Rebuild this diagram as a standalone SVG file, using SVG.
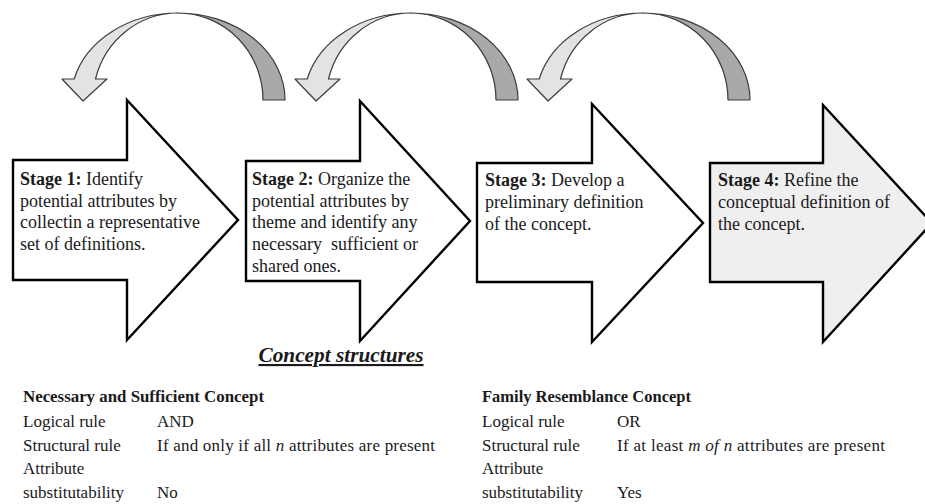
<svg xmlns="http://www.w3.org/2000/svg" width="925" height="504" viewBox="0 0 925 504">
<style>
  .blk { fill:#ffffff; stroke:#000000; stroke-width:2.4; stroke-linejoin:miter; }
  .blk4 { fill:#efefef; stroke:#000000; stroke-width:2.4; }
  .lt { fill:#e3e3e3; stroke:#3c3c3c; stroke-width:1.2; stroke-linejoin:round; }
  .dk { fill:#a9a9a9; stroke:#3c3c3c; stroke-width:1.2; stroke-linejoin:round; }
  .st { font-family:"Liberation Serif","Times New Roman",serif; font-size:18px; fill:#1a1a1a; }
  .tb { font-family:"Liberation Serif","Times New Roman",serif; font-size:17px; fill:#1a1a1a; }
  .b { font-weight:bold; }
  .i { font-style:italic; }
</style>

<g id="connectors">
  <g id="loop1">
    <path class="dk" d="M178 13 A107 87 0 0 1 285 100 L263 100 A85 87 0 0 0 178 13 Z"/>
    <path class="lt" d="M178 13 A107 87 0 0 0 74.2 79 L62 79 L83 101 L107 79 L95.5 79 A85 87 0 0 1 178 13 Z"/>
  </g>
  <g id="loop2">
    <path class="dk" d="M411 13 A107 87 0 0 1 518 100 L496 100 A85 87 0 0 0 411 13 Z"/>
    <path class="lt" d="M411 13 A107 87 0 0 0 307.2 79 L295 79 L316 101 L340 79 L328.5 79 A85 87 0 0 1 411 13 Z"/>
  </g>
  <g id="loop3">
    <path class="dk" d="M643 13 A107 87 0 0 1 750 100 L728 100 A85 87 0 0 0 643 13 Z"/>
    <path class="lt" d="M643 13 A107 87 0 0 0 539.2 79 L527 79 L548 101 L572 79 L560.5 79 A85 87 0 0 1 643 13 Z"/>
  </g>
</g>

<g id="stage1">
  <polygon class="blk" points="13,160 127,160 127,100 238,220 127,340 127,280 13,280"/>
  <text class="st" x="20" y="185"><tspan class="b">Stage 1:</tspan> Identify</text>
  <text class="st" x="20" y="207">potential attributes by</text>
  <text class="st" x="20" y="228">collectin a representative</text>
  <text class="st" x="20" y="250">set of definitions.</text>
</g>

<g id="stage2">
  <polygon class="blk" points="246,161 360,161 360,101 470,221 360,341 360,281 246,281"/>
  <text class="st" x="252" y="185"><tspan class="b">Stage 2:</tspan> Organize the</text>
  <text class="st" x="252" y="207">potential attributes by</text>
  <text class="st" x="252" y="228">theme and identify any</text>
  <text class="st" x="252" y="250" xml:space="preserve">necessary  sufficient or</text>
  <text class="st" x="252" y="272">shared ones.</text>
</g>

<g id="stage3">
  <polygon class="blk" points="477,163 592,163 592,104 703,223 592,342 592,282 477,282"/>
  <text class="st" x="485" y="186"><tspan class="b">Stage 3:</tspan> Develop a</text>
  <text class="st" x="485" y="208">preliminary definition</text>
  <text class="st" x="485" y="230">of the concept.</text>
</g>

<g id="stage4">
  <polygon class="blk4" points="710,163 823,163 823,105 932,223 823,342 823,282 710,282"/>
  <text class="st" x="718" y="186"><tspan class="b">Stage 4:</tspan> Refine the</text>
  <text class="st" x="718" y="208">conceptual definition of</text>
  <text class="st" x="718" y="230">the concept.</text>
</g>

<g id="concept-structures">
  <text x="341" y="362" text-anchor="middle" font-family="Liberation Serif, Times New Roman, serif" font-size="21.3" font-weight="bold" font-style="italic" fill="#1a1a1a" text-decoration="underline">Concept structures</text>
</g>

<g id="table-ns">
  <text class="tb b" x="23" y="402" textLength="241" lengthAdjust="spacingAndGlyphs">Necessary and Sufficient Concept</text>
  <text class="tb" x="23" y="427">Logical rule</text>
  <text class="tb" x="157" y="427">AND</text>
  <text class="tb" x="23" y="451">Structural rule</text>
  <text class="tb" x="157" y="451" textLength="278" lengthAdjust="spacing">If and only if all <tspan class="i">n</tspan> attributes are present</text>
  <text class="tb" x="23" y="474">Attribute</text>
  <text class="tb" x="23" y="498">substitutability</text>
  <text class="tb" x="157" y="498">No</text>
</g>

<g id="table-fr">
  <text class="tb b" x="482" y="402" textLength="209" lengthAdjust="spacingAndGlyphs">Family Resemblance Concept</text>
  <text class="tb" x="482" y="427">Logical rule</text>
  <text class="tb" x="617" y="427">OR</text>
  <text class="tb" x="482" y="451">Structural rule</text>
  <text class="tb" x="617" y="451" textLength="268" lengthAdjust="spacing">If at least <tspan class="i">m of n</tspan> attributes are present</text>
  <text class="tb" x="482" y="474">Attribute</text>
  <text class="tb" x="482" y="498">substitutability</text>
  <text class="tb" x="617" y="498">Yes</text>
</g>
</svg>
